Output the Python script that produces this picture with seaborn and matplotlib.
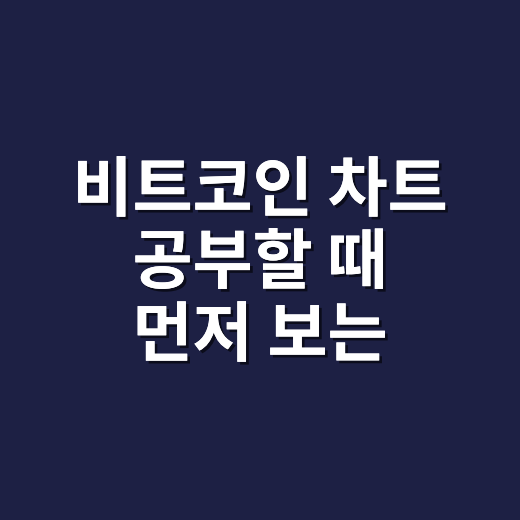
import matplotlib
matplotlib.use('Agg')
import matplotlib.pyplot as plt
import matplotlib.patheffects as pe
import seaborn as sns

# Title lines shown on the card
lines = ['비트코인 차트', '공부할 때', '먼저 보는']
line_y = [0.632, 0.493, 0.353]

bg_color = '#1d2044'

sns.set_theme(style='white')
plt.rcParams['font.family'] = ['Noto Sans CJK KR', 'DejaVu Sans']

fig = plt.figure(figsize=(5.2, 5.2), dpi=100)
fig.patch.set_facecolor(bg_color)
ax = fig.add_axes([0, 0, 1, 1])
ax.set_facecolor(bg_color)
ax.set_xlim(0, 1)
ax.set_ylim(0, 1)
ax.axis('off')

# Draw each line with a soft drop shadow
for text, y in zip(lines, line_y):
    ax.text(0.5, y, text, ha='center', va='center', color='white',
            fontsize=47, fontweight='bold',
            path_effects=[pe.withSimplePatchShadow(offset=(2, -2), shadow_rgbFace='black', alpha=0.6),
                          pe.Normal()])

fig.savefig('out.png', dpi=100, facecolor=bg_color)
